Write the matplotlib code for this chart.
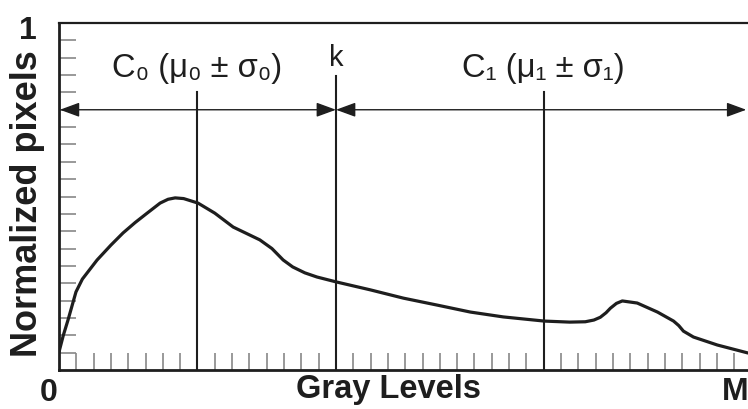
import matplotlib
matplotlib.use("Agg")
import matplotlib.pyplot as plt
import numpy as np

# Curve data (x in gray-level tick units 0..40, y normalized 0..1)
gray_x = [0.0, 0.25, 0.52, 0.98, 1.35, 2.2, 3.0, 3.7, 4.4, 5.09, 5.84, 6.3, 6.71,
          7.2, 8.03, 9.0, 10.06, 11.6, 12.3, 12.95, 13.5, 14.2, 14.9, 16.0,
          17.98, 19.9, 21.85, 23.76, 25.66, 28.03, 29.5, 30.4, 30.9, 31.27,
          31.6, 31.85, 32.2, 32.54, 33.4, 34.57, 35.5, 35.8, 36.07, 36.65,
          38.03, 39.8]
norm_y = [0.052, 0.10, 0.144, 0.225, 0.262, 0.317, 0.36, 0.395, 0.425, 0.452,
          0.481, 0.492, 0.496, 0.494, 0.481, 0.452, 0.412, 0.375, 0.35, 0.317,
          0.297, 0.28, 0.268, 0.254, 0.231, 0.207, 0.187, 0.167, 0.153, 0.141,
          0.138, 0.139, 0.144, 0.152, 0.165, 0.178, 0.192, 0.199, 0.193,
          0.167, 0.141, 0.128, 0.112, 0.095, 0.072, 0.049]

mu0, k, mu1 = 8.0, 16.0, 28.0
x_max = 39.8
arrow_y = 0.75
class_labels = ["C\u2080 (\u03bc\u2080 \u00b1 \u03c3\u2080)", "C\u2081 (\u03bc\u2081 \u00b1 \u03c3\u2081)"]
threshold_label = "k"
xlabel = "Gray Levels"
ylabel = "Normalized pixels"
corner_labels = ["0", "M", "1"]

fam = ["Liberation Sans", "DejaVu Sans"]
plt.rcParams["font.family"] = fam

W, H = 748, 409
fig = plt.figure(figsize=(W / 100, H / 100), dpi=100)
ax = fig.add_axes([59 / W, 39 / H, 1 - 59 / W, 347 / H])
ax.set_xlim(0, x_max)
ax.set_ylim(0, 1)


def fx(px):
    return px / W


def fy(py):
    return 1 - py / H


dark = "#1e1e1e"
ax.plot(gray_x, norm_y, color=dark, lw=2.3, solid_capstyle="round", zorder=3)

# vertical markers
ax.plot([mu0, mu0], [0, 0.80], color=dark, lw=1.5)
ax.plot([k, k], [0, 0.848], color=dark, lw=1.5)
ax.plot([mu1, mu1], [0, 0.80], color=dark, lw=1.5)

# arrows
ap = dict(arrowstyle="<|-|>,head_length=0.6,head_width=0.22", color=dark, lw=1.0,
          shrinkA=0, shrinkB=0, mutation_scale=20)
ax.annotate("", xy=(0.05, arrow_y), xytext=(k, arrow_y), arrowprops=ap)
ax.annotate("", xy=(k, arrow_y), xytext=(x_max - 0.1, arrow_y), arrowprops=ap)

# texts
ax.text(mu0, 0.845, class_labels[0], ha="center", va="baseline", fontsize=23.5, color=dark)
ax.text(mu1, 0.845, class_labels[1], ha="center", va="baseline", fontsize=23.5, color=dark)
ax.text(k, 0.876, threshold_label, ha="center", va="baseline", fontsize=21, color=dark)

fig.text(fx(49), fy(401), corner_labels[0], ha="center", va="baseline", fontsize=23,
         fontweight="bold", color=dark)
fig.text(fx(735), fy(400), corner_labels[1], ha="center", va="baseline", fontsize=23,
         fontweight="bold", color=dark)
fig.text(fx(37), fy(39), corner_labels[2], ha="right", va="baseline", fontsize=23,
         fontweight="bold", color=dark)

fig.text(fx(388), fy(398), xlabel, ha="center", va="baseline", fontsize=23.5,
         fontweight="bold", color=dark)
fig.text(fx(28), fy(204), ylabel, rotation=90, ha="center", va="center",
         fontsize=26, fontweight="bold", color=dark)

# spines & ticks
for s in ["left", "bottom"]:
    ax.spines[s].set_linewidth(2.0)
    ax.spines[s].set_color(dark)
ax.spines["top"].set_linewidth(1.6)
ax.spines["top"].set_color(dark)
ax.spines["right"].set_visible(False)

ax.set_xticks(np.arange(1, 40, 1))
ax.set_yticks(np.arange(0.05, 1.0, 0.05))
ax.tick_params(direction="in", length=12, width=1.2, color="#888888",
               labelbottom=False, labelleft=False)

fig.savefig("out.png", dpi=100)
